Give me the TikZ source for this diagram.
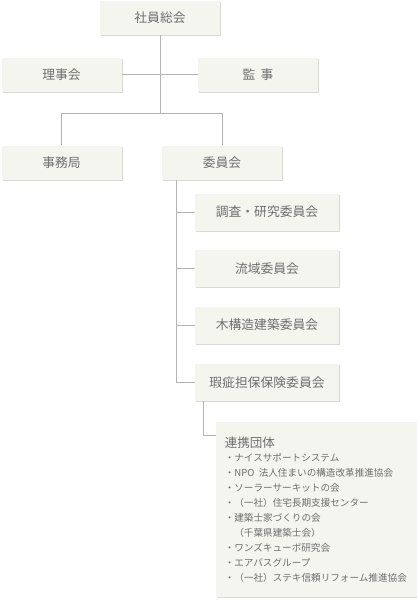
\documentclass[tikz,border=0pt]{standalone}
\usepackage{fontspec}
\newfontfamily\jpfont{Noto Sans CJK JP}
\usetikzlibrary{positioning, calc, shadows}

\definecolor{boxfill}{HTML}{F4F5EF}
\definecolor{boxshade}{HTML}{D9DAD3}
\definecolor{linegray}{HTML}{B4B4B4}
\definecolor{textgray}{HTML}{6E6E6E}

\begin{document}
\begin{tikzpicture}[
  x=0.75pt, y=-0.75pt,
  unit/.style={rectangle, fill=boxfill, inner sep=0pt,
               text=textgray, font=\jpfont\fontsize{9.6}{11}\selectfont,
               drop shadow={shadow xshift=0.8pt, shadow yshift=-0.8pt,
                            fill=boxshade, opacity=1}},
  topbox/.style={unit, minimum width=90pt, minimum height=25.5pt},
  subbox/.style={unit, minimum width=108pt, minimum height=27.75pt},
  link/.style={draw=linegray, line width=0.6pt}
]
\useasboundingbox (0,0) rectangle (417,600);

% Top level
\node[topbox] (sokai) at (160,18) {社員総会};
\node[topbox] (riji)  at (61.5,74.5) {理事会};
\node[topbox] (kanji) at (258,74.5) {監\hspace{0.4em}事};
\node[topbox] (jimu)  at (61.5,162.5) {事務局};
\node[topbox] (iin)   at (222,162.5) {委員会};
\coordinate (split) at (160,113);

\draw[link] (sokai) -- (split);
\draw[link] (riji) -- (kanji);
\draw[link] (split) -| (jimu.north);
\draw[link] (split) -| (iin.north);

% Committees
\node[subbox] (chosa)  at (267,212) {調査・研究委員会};
\node[subbox] (ryuiki) at (267,268.5) {流域委員会};
\node[subbox] (mokko)  at (267,325) {木構造建築委員会};
\node[subbox] (hoken)  at (267,382.5) {瑕疵担保保険委員会};

\foreach \c in {chosa, ryuiki, mokko, hoken}
  \draw[link] ($(iin.south west)+(15,0)$) |- (\c.west);

% Partner groups
\node[unit, anchor=north west, minimum width=150.75pt, minimum height=131.25pt,
      text width=138pt, align=left] (renkei) at (216,422)
  {{\fontsize{9.4}{17}\selectfont 連携団体}\\[-1pt]
   \fontsize{7.2}{11.25}\selectfont
   ・ナイスサポートシステム\\
   ・NPO 法人住まいの構造改革推進協会\\
   ・ソーラーサーキットの会\\
   ・（一社）住宅長期支援センター\\
   ・建築士家づくりの会\\
   　（千葉県建築士会）\\
   ・ワンズキューボ研究会\\
   ・エアパスグループ\\
   ・（一社）ステキ信頼リフォーム推進協会};

\draw[link] ($(hoken.south west)+(9,0)$) |- ($(renkei.north west)+(0,13)$);

\end{tikzpicture}
\end{document}
